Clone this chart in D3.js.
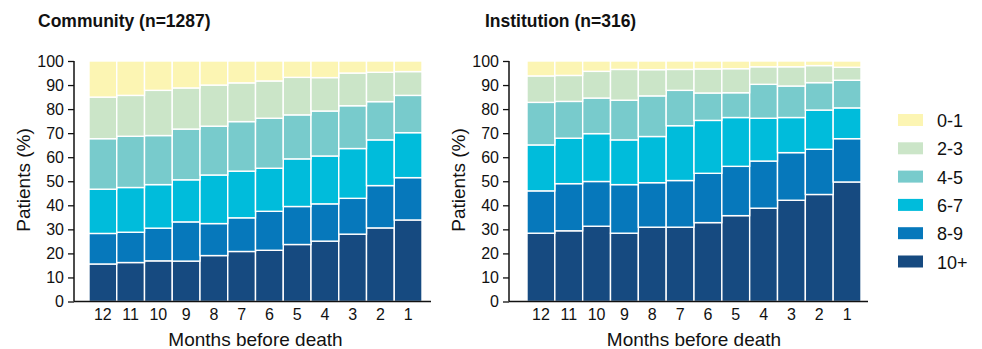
<!DOCTYPE html>
<html>
<head>
<meta charset="utf-8">
<script src="https://cdn.jsdelivr.net/npm/d3@7"></script>
<style>
  body { margin: 0; background: #fff; }
  svg { font-family: "Liberation Sans", Arial, sans-serif; }
</style>
</head>
<body>
<div id="chart"></div>
<script>
// months before death (x categories)
const months = ["12", "11", "10", "9", "8", "7", "6", "5", "4", "3", "2", "1"];
// groups, bottom to top of each bar
const groups = ["10+", "8-9", "6-7", "4-5", "2-3", "0-1"];
const legendOrder = ["0-1", "2-3", "4-5", "6-7", "8-9", "10+"];
const yTicks = [0, 10, 20, 30, 40, 50, 60, 70, 80, 90, 100];

// Community (n=1287), % per group, one value per month (12 -> 1)
const community_10 = [15.6, 16.2, 16.9, 16.8, 19.1, 20.8, 21.3, 23.7, 25.1, 28.0, 30.6, 33.9];
const community_8 = [12.7, 12.6, 13.6, 16.3, 13.3, 14.0, 16.2, 15.8, 15.5, 14.9, 17.6, 17.6];
const community_6 = [18.4, 18.6, 18.1, 17.5, 20.2, 19.4, 17.9, 19.8, 19.9, 20.7, 19.0, 18.7];
const community_4 = [21.0, 21.3, 20.4, 21.1, 20.3, 20.6, 20.8, 18.3, 18.7, 17.8, 15.9, 15.5];
const community_2 = [17.3, 17.0, 18.8, 17.1, 17.1, 16.1, 15.5, 15.6, 13.9, 13.6, 12.2, 9.9];
const community_0 = [15.0, 14.3, 12.2, 11.2, 10.0, 9.1, 8.3, 6.8, 6.9, 5.0, 4.7, 4.4];

// Institution (n=316)
const institution_10 = [28.4, 29.4, 31.3, 28.4, 30.9, 30.9, 32.8, 35.7, 38.8, 42.1, 44.5, 49.7];
const institution_8 = [17.6, 19.6, 18.6, 20.2, 18.5, 19.4, 20.5, 20.5, 19.6, 19.8, 18.8, 18.0];
const institution_6 = [19.1, 18.9, 19.9, 18.6, 19.2, 22.8, 22.0, 20.3, 17.8, 14.6, 16.3, 12.8];
const institution_4 = [17.7, 15.3, 14.8, 16.5, 16.9, 14.7, 11.4, 10.3, 14.1, 13.1, 11.4, 11.5];
const institution_2 = [11.0, 10.8, 11.1, 12.8, 10.9, 8.7, 10.0, 10.0, 7.3, 8.0, 7.1, 5.4];
const institution_0 = [6.2, 6.0, 4.3, 3.5, 3.6, 3.5, 3.3, 3.2, 2.4, 2.4, 1.9, 2.6];

var color = d3.scaleOrdinal()
  .domain(legendOrder)
  .range(["#fcf5b3", "#cbe5c8", "#78cbcc", "#00bcdb", "#0678bb", "#164a80"]);

var svg = d3.select("#chart")
  .append("svg")
  .attr("width", 982)
  .attr("height", 349);

function buildRows(series) {
  return months.map(function (m, i) {
    var row = { month: m };
    groups.forEach(function (g, j) { row[g] = series[j][i]; });
    return row;
  });
}

function drawPanel(opts) {
  var rows = buildRows(opts.series);
  var stacked = d3.stack().keys(groups)(rows);

  var y = d3.scaleLinear().domain([0, 100]).range([301.5, 61]);
  var x = d3.scaleBand().domain(months).range([opts.barsLeft, opts.barsRight]).padding(0);

  var g = svg.append("g");

  g.selectAll("g.layer")
    .data(stacked)
    .enter()
    .append("g")
    .attr("class", "layer")
    .attr("fill", function (d) { return color(d.key); })
    .selectAll("rect")
    .data(function (d) { return d; })
    .enter()
    .append("rect")
    .attr("x", function (d) { return x(d.data.month); })
    .attr("width", x.bandwidth())
    .attr("y", function (d) { return y(d[1]); })
    .attr("height", function (d) { return y(d[0]) - y(d[1]); })
    .attr("stroke", "#fff")
    .attr("stroke-width", 1.4);

  // y axis
  var yAxis = g.append("g")
    .attr("transform", "translate(" + opts.axisX + ",0)")
    .call(d3.axisLeft(y).tickValues(yTicks).tickSize(6).tickPadding(4));
  yAxis.select(".domain").attr("stroke", "#111").attr("stroke-width", 1.5).attr("d", "M0," + y(100) + "V" + y(0));
  yAxis.selectAll(".tick line").attr("stroke", "#111").attr("stroke-width", 1.3);
  yAxis.selectAll("text").style("font-size", "16px").attr("fill", "#111");

  // x axis (line only, labels without ticks)
  g.append("line")
    .attr("x1", opts.axisX)
    .attr("x2", opts.axisEnd)
    .attr("y1", y(0))
    .attr("y2", y(0))
    .attr("stroke", "#111")
    .attr("stroke-width", 1.5);

  g.selectAll("text.month")
    .data(months)
    .enter()
    .append("text")
    .attr("class", "month")
    .attr("x", function (d) { return x(d) + x.bandwidth() / 2; })
    .attr("y", 320)
    .attr("text-anchor", "middle")
    .style("font-size", "16px")
    .attr("fill", "#111")
    .text(function (d) { return d; });

  g.append("text")
    .attr("x", (opts.barsLeft + opts.barsRight) / 2)
    .attr("y", 346)
    .attr("text-anchor", "middle")
    .style("font-size", "19px")
    .attr("fill", "#111")
    .text("Months before death");

  g.append("text")
    .attr("transform", "translate(" + (opts.axisX - 44) + "," + 180 + ")rotate(-90)")
    .attr("text-anchor", "middle")
    .style("font-size", "19px")
    .attr("fill", "#111")
    .text("Patients (%)");

  g.append("text")
    .attr("x", opts.titleX)
    .attr("y", 27)
    .style("font-size", "17.5px")
    .style("font-weight", "bold")
    .attr("fill", "#111")
    .text(opts.title);
}

drawPanel({
  title: "Community (n=1287)",
  titleX: 38,
  axisX: 74,
  axisEnd: 431,
  barsLeft: 89,
  barsRight: 422,
  series: [community_10, community_8, community_6, community_4, community_2, community_0]
});

drawPanel({
  title: "Institution (n=316)",
  titleX: 485,
  axisX: 509,
  axisEnd: 868,
  barsLeft: 527,
  barsRight: 861,
  series: [institution_10, institution_8, institution_6, institution_4, institution_2, institution_0]
});

// Legend
var legend = svg.append("g");
legend.selectAll("rect")
  .data(legendOrder)
  .enter()
  .append("rect")
  .attr("x", 898)
  .attr("y", function (d, i) { return 114 + i * 28.3; })
  .attr("width", 25)
  .attr("height", 12)
  .attr("fill", function (d) { return color(d); });

legend.selectAll("text")
  .data(legendOrder)
  .enter()
  .append("text")
  .attr("x", 937)
  .attr("y", function (d, i) { return 127 + i * 28.3; })
  .style("font-size", "18px")
  .attr("fill", "#111")
  .text(function (d) { return d; });
</script>
</body>
</html>
